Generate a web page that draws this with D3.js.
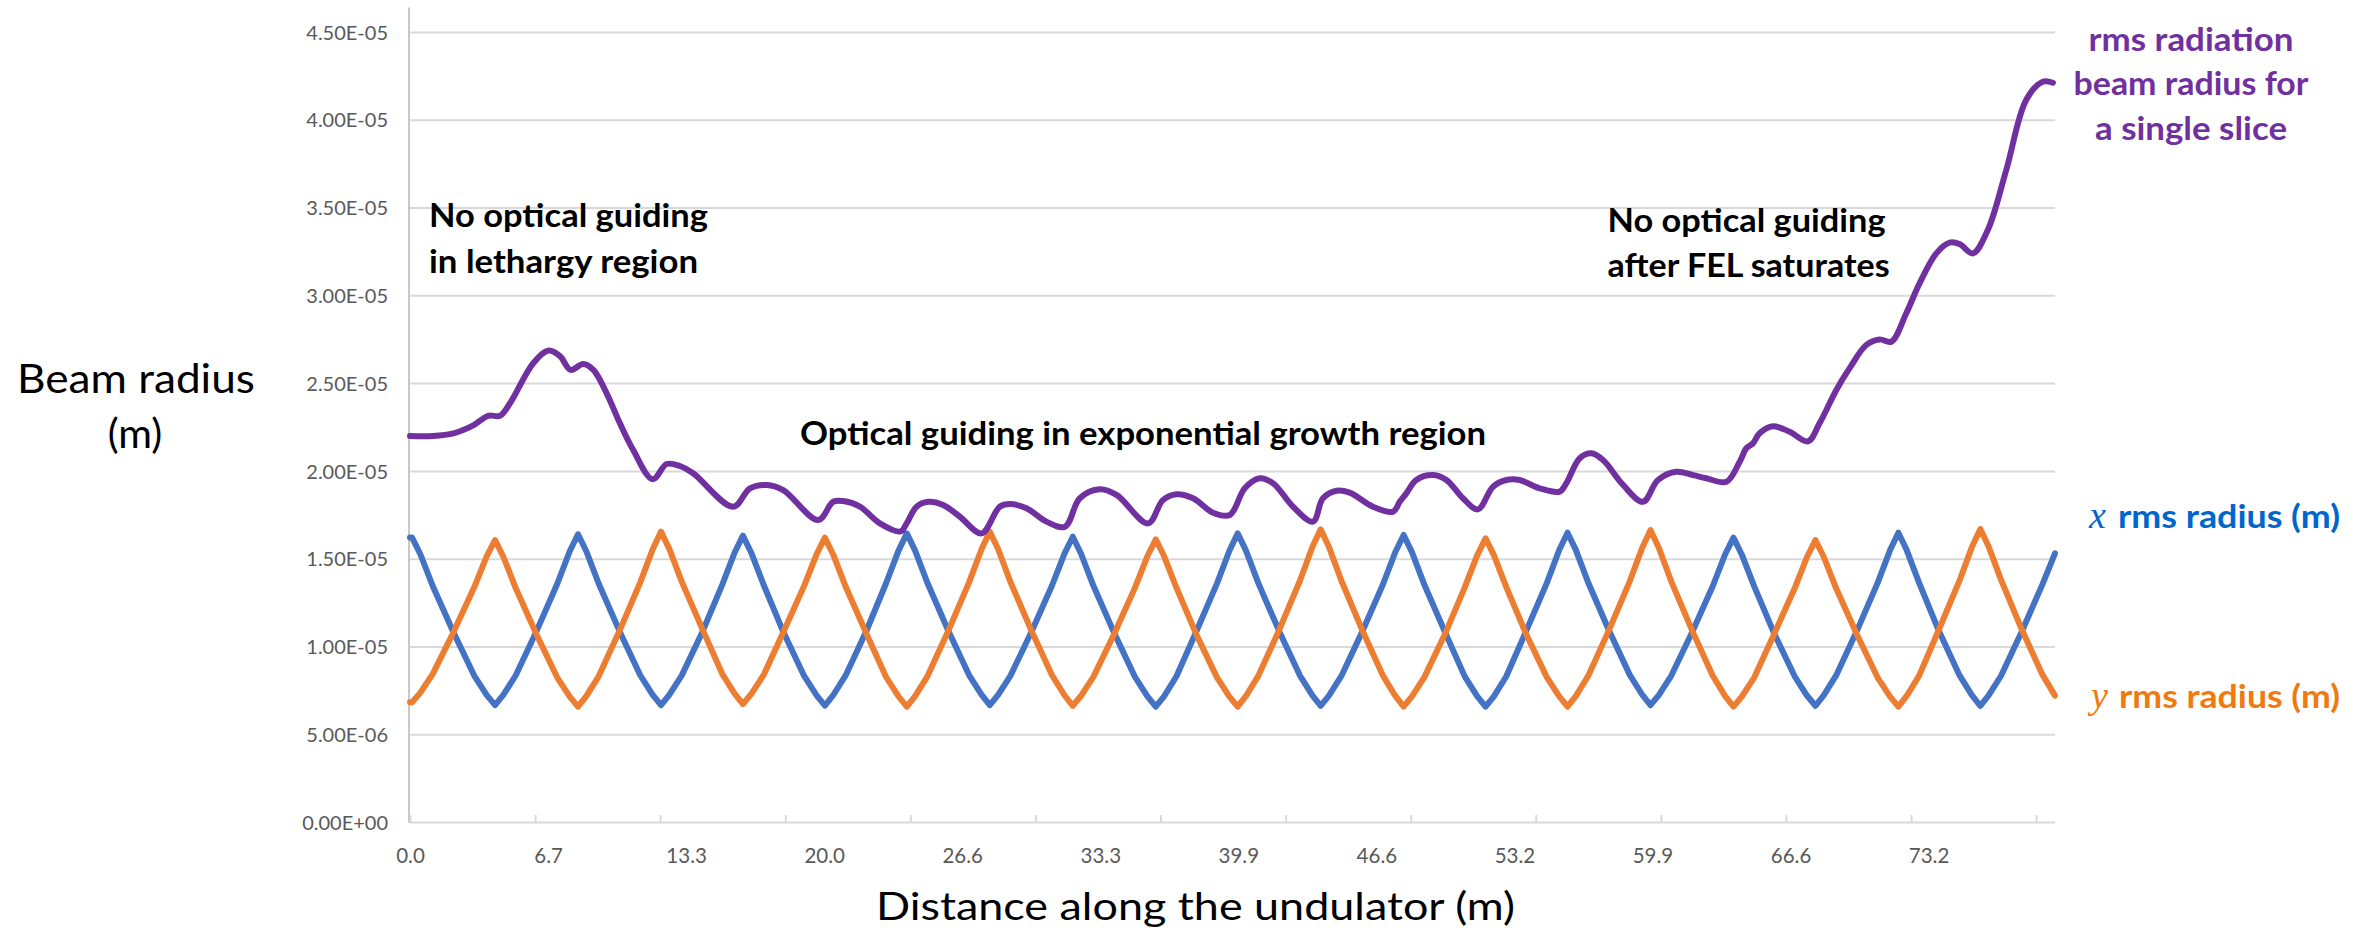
<!DOCTYPE html>
<html><head><meta charset="utf-8">
<script src="https://cdn.jsdelivr.net/npm/d3@7"></script>
<style>body{margin:0;background:#fff}svg{display:block}</style>
</head><body><svg id="chart" width="2368" height="928"></svg>
<script>
// ---------- DATA ----------
// distance along the undulator (m) for the x / y rms electron beam radius
const beamDist = [
  0, 0.1, 0.5, 1.1, 2.1, 3.1, 3.7,
  4.1, 4.5, 5.1, 6.1, 7.1, 7.7,
  8.1, 8.5, 9.1, 10.1, 11.1, 11.7,
  12.1, 12.5, 13.1, 14.1, 15.05, 15.65,
  16.05, 16.45, 17.05, 18.0, 19.0, 19.6,
  20.0, 20.4, 21.0, 22.0, 22.95, 23.55,
  23.95, 24.35, 24.95, 25.95, 26.95, 27.55,
  27.95, 28.35, 28.95, 29.95, 30.95, 31.55,
  31.95, 32.35, 32.95, 33.95, 34.95, 35.55,
  35.95, 36.35, 36.95, 37.9, 38.9, 39.5,
  39.9, 40.3, 40.9, 41.9, 42.9, 43.5,
  43.9, 44.3, 44.9, 45.9, 46.9, 47.5,
  47.9, 48.3, 48.9, 49.9, 50.85, 51.45,
  51.85, 52.25, 52.85, 53.8, 54.8, 55.4,
  55.8, 56.2, 56.8, 57.8, 58.8, 59.4,
  59.8, 60.2, 60.8, 61.8, 62.8, 63.4,
  63.8, 64.2, 64.8, 65.75, 66.75, 67.35,
  67.75, 68.15, 68.75, 69.75, 70.75, 71.35,
  71.75, 72.15, 72.75, 73.7, 74.7, 75.3,
  75.7, 76.1, 76.7, 77.7, 78.7, 79.3
];
// x rms radius (micrometres)
const xRmsUm = [
  16.2, 16.2, 15.25, 13.43, 10.79, 8.33, 7.23,
  6.66, 7.24, 8.36, 10.87, 13.57, 15.42,
  16.39, 15.42, 13.57, 10.87, 8.36, 7.24,
  6.66, 7.24, 8.35, 10.84, 13.51, 15.35,
  16.31, 15.34, 13.50, 10.82, 8.32, 7.21,
  6.63, 7.22, 8.35, 10.88, 13.60, 15.46,
  16.44, 15.46, 13.60, 10.89, 8.37, 7.25,
  6.66, 7.24, 8.34, 10.81, 13.47, 15.29,
  16.25, 15.28, 13.44, 10.76, 8.26, 7.15,
  6.57, 7.16, 8.30, 10.84, 13.58, 15.45,
  16.44, 15.46, 13.59, 10.87, 8.34, 7.21,
  6.62, 7.20, 8.32, 10.83, 13.53, 15.38,
  16.35, 15.37, 13.51, 10.80, 8.28, 7.16,
  6.57, 7.16, 8.30, 10.86, 13.61, 15.49,
  16.48, 15.50, 13.63, 10.91, 8.38, 7.25,
  6.66, 7.23, 8.33, 10.79, 13.43, 15.25,
  16.20, 15.24, 13.42, 10.77, 8.30, 7.19,
  6.62, 7.21, 8.35, 10.89, 13.62, 15.49,
  16.48, 15.49, 13.62, 10.89, 8.35, 7.21,
  6.62, 7.21, 8.33, 10.85, 13.55, 15.30
];
// y rms radius (micrometres)
const yRmsUm = [
  6.82, 6.82, 7.37, 8.44, 10.82, 13.38, 15.14,
  16.06, 15.11, 13.31, 10.68, 8.23, 7.14,
  6.57, 7.17, 8.31, 10.89, 13.65, 15.54,
  16.54, 15.56, 13.69, 10.97, 8.44, 7.31,
  6.72, 7.29, 8.38, 10.82, 13.45, 15.25,
  16.20, 15.24, 13.41, 10.74, 8.26, 7.15,
  6.57, 7.17, 8.31, 10.89, 13.65, 15.54,
  16.54, 15.55, 13.66, 10.92, 8.36, 7.22,
  6.62, 7.19, 8.28, 10.72, 13.35, 15.15,
  16.10, 15.15, 13.34, 10.70, 8.24, 7.14,
  6.57, 7.18, 8.34, 10.94, 13.74, 15.66,
  16.67, 15.66, 13.74, 10.94, 8.34, 7.18,
  6.57, 7.15, 8.25, 10.72, 13.38, 15.20,
  16.16, 15.20, 13.38, 10.72, 8.25, 7.15,
  6.57, 7.17, 8.33, 10.93, 13.71, 15.62,
  16.63, 15.62, 13.71, 10.93, 8.33, 7.17,
  6.57, 7.14, 8.23, 10.68, 13.31, 15.11,
  16.06, 15.11, 13.31, 10.68, 8.23, 7.14,
  6.57, 7.18, 8.34, 10.95, 13.76, 15.68,
  16.69, 15.69, 13.79, 10.96, 8.38, 7.20
];
// rms radiation beam radius for a single slice
const radDist = [
  0, 1.1, 2.1, 3.0, 3.77, 4.34, 4.82, 5.94, 6.67, 7.23, 7.74, 8.35, 8.84,
  9.48, 10.12, 10.76, 11.70, 12.37, 13.01, 13.65, 15.58, 16.39, 17.19, 17.99,
  19.68, 20.40, 20.88, 21.69, 22.65, 23.65, 23.94, 24.42, 24.98, 25.70, 26.51,
  27.55, 28.43, 28.92, 29.72, 30.68, 31.57, 32.29, 33.25, 34.06, 35.58, 36.30,
  36.95, 37.75, 38.71, 39.52, 40.24, 40.96, 41.61, 42.57, 43.53, 44.01, 44.66,
  45.30, 46.42, 47.39, 47.71, 48.03, 48.51, 49.32, 49.96, 50.76, 51.48, 52.21,
  52.85, 53.49, 54.46, 55.42, 55.74, 56.39, 56.95, 57.51, 58.48, 59.44, 60.16,
  61.04, 61.85, 62.49, 63.46, 64.10, 64.42, 64.74, 65.06, 65.70, 66.51, 67.39,
  67.95, 68.76, 69.40, 70.20, 70.84, 71.41, 72.13, 72.77, 73.58, 74.22, 74.70,
  75.34, 76.06, 76.95, 77.91, 78.71, 79.20
];
const radRmsUm = [
  21.99, 21.99, 22.14, 22.56, 23.14, 23.14, 23.85, 26.13, 26.85, 26.54, 25.75, 26.09, 25.75,
  24.42, 22.71, 21.19, 19.52, 20.39, 20.28, 19.86, 17.96, 19.01, 19.20, 18.91,
  17.20, 18.24, 18.28, 17.96, 17.01, 16.55, 17.01, 17.96, 18.24, 18.06, 17.39,
  16.44, 17.96, 18.11, 17.87, 17.11, 16.82, 18.44, 18.95, 18.63, 17.01, 18.34,
  18.67, 18.44, 17.62, 17.49, 19.01, 19.58, 19.29, 17.96, 17.11, 18.44, 18.87,
  18.76, 17.96, 17.68, 18.24, 18.72, 19.48, 19.76, 19.48, 18.44, 17.81, 19.10,
  19.48, 19.48, 19.01, 18.82, 19.29, 20.72, 21.00, 20.62, 19.20, 18.24, 19.48,
  19.95, 19.76, 19.58, 19.38, 20.52, 21.29, 21.57, 22.14, 22.54, 22.23, 21.68,
  22.71, 24.61, 25.85, 27.17, 27.49, 27.36, 28.98, 30.68, 32.39, 33.00, 32.92,
  32.39, 33.72, 37.14, 41.13, 42.17, 42.11
];
const yTickValues = [0, 5e-6, 1e-5, 1.5e-5, 2e-5, 2.5e-5, 3e-5, 3.5e-5, 4e-5, 4.5e-5];
const yTickLabels = ["0.00E+00","5.00E-06","1.00E-05","1.50E-05","2.00E-05","2.50E-05","3.00E-05","3.50E-05","4.00E-05","4.50E-05"];
const xTickLabels = ["0.0","6.7","13.3","20.0","26.6","33.3","39.9","46.6","53.2","59.9","66.6","73.2"];
const xLabelStep = 6.655;   // metres between labelled categories
const xTickStep = 6.03;     // metres between axis tick marks
const xMax = 79.3;
const yAxisTop = 4.64e-5;

// ---------- CHART ----------
const svg = d3.select("#chart");
svg.append("rect").attr("width",2368).attr("height",928).attr("fill","#fff");
const FONT = "Lato, 'Open Sans', sans-serif";
const x = d3.scaleLinear().domain([0, xMax]).range([410, 2055]);
const y = d3.scaleLinear().domain([0, 4.5e-5]).range([822, 32]);
const um = 1e-6;

// y axis with gridlines
const gy = svg.append("g").attr("transform", `translate(${x(0)},0)`)
  .call(d3.axisLeft(y).tickValues(yTickValues)
    .tickFormat((d,i)=>yTickLabels[i])
    .tickSize(-(x(xMax)-x(0))).tickPadding(22));
gy.select(".domain").remove();
gy.selectAll(".tick line").attr("stroke","#d9d9d9").attr("stroke-width",2);
gy.selectAll(".tick text").attr("fill","#595959").attr("font-family",FONT)
  .attr("font-size",20).attr("dy","0.36em");

// vertical axis line
svg.append("line").attr("x1", x(0)-1).attr("x2", x(0)-1)
  .attr("y1", y(0)+1).attr("y2", y(yAxisTop))
  .attr("stroke","#c8c8c8").attr("stroke-width",2);

// x axis tick marks
const tickMarks = d3.range(0, xMax, xTickStep);
const gxm = svg.append("g").attr("transform", `translate(0,${y(0)})`)
  .call(d3.axisBottom(x).tickValues(tickMarks).tickSize(-7).tickFormat(""));
gxm.select(".domain").remove();
gxm.selectAll(".tick line").attr("stroke","#d9d9d9").attr("stroke-width",2);

// x axis labels
const labelPos = xTickLabels.map((_,i)=>i*xLabelStep);
const gx = svg.append("g").attr("transform", `translate(0,${y(0)})`)
  .call(d3.axisBottom(x).tickValues(labelPos).tickFormat((d,i)=>xTickLabels[i])
    .tickSize(0).tickPadding(26));
gx.select(".domain").remove();
gx.selectAll(".tick text").attr("fill","#595959").attr("font-family",FONT)
  .attr("font-size",20.5);

// series
const lineBeam = d3.line().x((d,i)=>x(beamDist[i])).y(d=>y(d*um));
const lineRad = d3.line().x((d,i)=>x(radDist[i])).y(d=>y(d*um))
  .curve(d3.curveCatmullRom.alpha(0.5));
svg.append("path").datum(xRmsUm).attr("d", lineBeam)
  .attr("fill","none").attr("stroke","#4472C4").attr("stroke-width",6)
  .attr("stroke-linejoin","round").attr("stroke-linecap","round");
svg.append("path").datum(yRmsUm).attr("d", lineBeam)
  .attr("fill","none").attr("stroke","#ED7D31").attr("stroke-width",6)
  .attr("stroke-linejoin","round").attr("stroke-linecap","round");
svg.append("path").datum(radRmsUm).attr("d", lineRad)
  .attr("fill","none").attr("stroke","#7030A0").attr("stroke-width",6)
  .attr("stroke-linejoin","round").attr("stroke-linecap","round");

// text helper
function txt(s, xx, yy, opts){
  const t = svg.append("text").attr("x",xx).attr("y",yy).text(s)
    .attr("font-family", opts.family || FONT)
    .attr("font-size", opts.size).attr("fill", opts.fill || "#000")
    .attr("font-weight", opts.weight || "normal")
    .attr("text-anchor", opts.anchor || "start");
  if (opts.style) t.attr("font-style", opts.style);
  if (opts.len) t.attr("textLength", opts.len).attr("lengthAdjust","spacingAndGlyphs");
  return t;
}

// axis titles
txt("Beam radius", 136, 392.7, {size:41, anchor:"middle", len:238});
txt("(m)", 135, 448, {size:41, anchor:"middle"});
txt("Distance along the undulator (m)", 876, 920, {size:39.5, len:639});

// annotations
const ann = {size:32.5, weight:"bold"};
txt("No optical guiding", 429, 227.3, {...ann, len:279});
txt("in lethargy region", 429, 272.7, {...ann, len:269});
txt("Optical guiding in exponential growth region", 800, 445, {...ann, len:686});
txt("No optical guiding", 1607.6, 231.7, {...ann, len:278});
txt("after FEL saturates", 1607.6, 276.7, {...ann, len:282});

// series labels
const purple = "#7030A0";
txt("rms radiation", 2191, 50.7, {...ann, fill:purple, anchor:"middle", len:205});
txt("beam radius for", 2191, 95, {...ann, fill:purple, anchor:"middle", len:235});
txt("a single slice", 2191, 140, {...ann, fill:purple, anchor:"middle", len:192});

const blueT = "#0066CC", orangeT = "#F07A10";
txt("x", 2089, 528.3, {size:38, family:"'Liberation Serif', 'DejaVu Serif', serif", style:"italic", fill:blueT});
txt("rms radius (m)", 2118, 528.3, {...ann, fill:blueT, len:222});
txt("y", 2091, 708.3, {size:38, family:"'Liberation Serif', 'DejaVu Serif', serif", style:"italic", fill:orangeT});
txt("rms radius (m)", 2119, 708.3, {...ann, fill:orangeT, len:221});
</script></body></html>
